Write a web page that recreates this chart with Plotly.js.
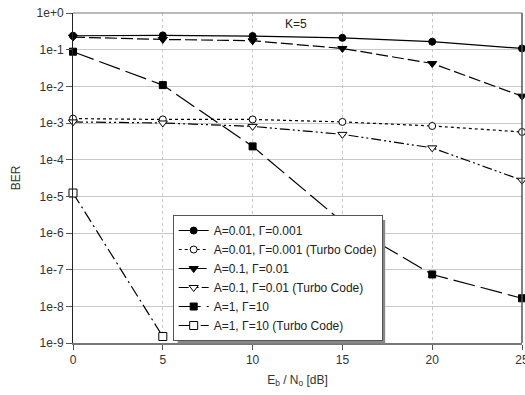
<!DOCTYPE html>
<html>
<head>
<meta charset="utf-8">
<script src="https://cdn.plot.ly/plotly-3.0.1.min.js"></script>
<style>html,body{margin:0;padding:0;background:#fff;}#chart{width:525px;height:395px;}</style>
</head>
<body>
<div id="chart"></div>
<script>
// Data
const ebno = [0, 5, 10, 15, 20, 25];
const berA001 = [0.24, 0.245, 0.235, 0.21, 0.165, 0.108];
const berA001Turbo = [1.32e-3, 1.25e-3, 1.25e-3, 1.07e-3, 8.3e-4, 5.7e-4];
const berA01 = [0.22, 0.19, 0.175, 0.108, 0.042, 0.0054];
const berA01Turbo = [1.07e-3, 1.0e-3, 8.1e-4, 4.9e-4, 2.1e-4, 2.75e-5];
const berA1 = [0.088, 0.0108, 2.3e-4, 2.0e-6, 7.4e-8, 1.66e-8];
const ebnoA1Turbo = [0, 5];
const berA1Turbo = [1.23e-5, 1.5e-9];
const seriesNames = [
  "A=0.01, Γ=0.001",
  "A=0.01, Γ=0.001 (Turbo Code)",
  "A=0.1, Γ=0.01",
  "A=0.1, Γ=0.01 (Turbo Code)",
  "A=1, Γ=10",
  "A=1, Γ=10 (Turbo Code)"
];
const yTickVals = [1, 1e-1, 1e-2, 1e-3, 1e-4, 1e-5, 1e-6, 1e-7, 1e-8, 1e-9];
const yTickText = ["1e+0","1e-1","1e-2","1e-3","1e-4","1e-5","1e-6","1e-7","1e-8","1e-9"];
const xTickVals = [0, 5, 10, 15, 20, 25];

function tr(x, y, name, dash, symbol, filled, size) {
  return {
    x: x, y: y, name: name, type: 'scatter', mode: 'lines+markers',
    line: {color: '#000', width: 1.2, dash: dash},
    marker: {symbol: symbol, size: size, color: filled ? '#000' : '#fff',
             line: {color: '#000', width: 1}},
    cliponaxis: false
  };
}

const data = [
  tr(ebno, berA001, seriesNames[0], 'solid', 'circle', true, 7),
  tr(ebno, berA001Turbo, seriesNames[1], 'dot', 'circle', false, 7),
  tr(ebno, berA01, seriesNames[2], '12px,4px', 'triangle-down', true, 8),
  tr(ebno, berA01Turbo, seriesNames[3], '10px,3px,2px,3px,2px,3px', 'triangle-down', false, 8),
  tr(ebno, berA1, seriesNames[4], '22px,6px', 'square', true, 7),
  tr(ebnoA1Turbo, berA1Turbo, seriesNames[5], '12px,4px,2px,4px', 'square', false, 8)
];

const M = {l: 73, r: 3, t: 13, b: 52};
const LEGX = 0.222, LEGY = 0.006;
const layout = {
  width: 525, height: 395,
  margin: M,
  paper_bgcolor: '#fff', plot_bgcolor: '#fff',
  font: {family: 'Liberation Sans, Arial, sans-serif', size: 12, color: '#333'},
  showlegend: true,
  xaxis: {
    range: [0, 25], tickvals: xTickVals, ticks: 'outside', ticklen: 5, tickcolor: '#555',
    ticklabeloverflow: 'allow',
    showline: true, linecolor: '#777', linewidth: 2, mirror: false,
    showgrid: true, gridcolor: '#c8c8c8', griddash: 'dot', gridwidth: 1,
    zeroline: false, tickfont: {size: 12, color: '#333'},
    title: {text: 'E<sub>b</sub> / N<sub>o</sub> [dB]', font: {size: 12, color: '#333'}, standoff: 9}
  },
  yaxis: {
    type: 'log', range: [-9, 0], tickvals: yTickVals, ticktext: yTickText,
    ticks: 'outside', ticklen: 6, tickcolor: '#555',
    showline: true, linecolor: '#222', linewidth: 1, mirror: false,
    showgrid: true, gridcolor: '#c8c8c8', gridwidth: 1,
    zeroline: false, tickfont: {size: 12, color: '#333'},
    title: {text: 'BER', font: {size: 12, color: '#333'}, standoff: 13}
  },
  legend: {
    x: LEGX, y: LEGY, xanchor: 'left', yanchor: 'bottom',
    bgcolor: '#fff', bordercolor: '#555', borderwidth: 1,
    font: {size: 12, color: '#222'}, itemwidth: 30, tracegroupgap: 0
  },
  shapes: [
    {type: 'line', xref: 'paper', yref: 'paper', x0: 0, x1: 1, y0: 1, y1: 1, line: {color: '#777', width: 1}},
    {type: 'line', xref: 'paper', yref: 'paper', x0: 1, x1: 1, y0: 0, y1: 1, line: {color: '#555', width: 1.5}}
  ],
  annotations: [
    {text: 'K=5', x: 15, y: 0, xref: 'x', yref: 'y', yanchor: 'top', xanchor: 'center', xshift: -46, yshift: -2,
     showarrow: false, font: {size: 12, color: '#222'}}
  ]
};

Plotly.newPlot('chart', data, layout, {displayModeBar: false, staticPlot: true}).then(function (gd) {
  // drop shadow behind the legend box, sized from the legend Plotly drew
  try {
    const fl = gd._fullLayout;
    const lw = fl.legend._width, lh = fl.legend._effHeight || fl.legend._height;
    if (!lw || !lh) return;
    const pw = fl._size.w, ph = fl._size.h;
    const d = 2.5;
    const shadow = {type: 'rect', xref: 'paper', yref: 'paper', layer: 'above',
      x0: LEGX + 2 * d / pw, x1: LEGX + (lw + d) / pw,
      y0: LEGY - d / ph, y1: LEGY + (lh - 2 * d) / ph,
      fillcolor: '#888', line: {width: 0}};
    return Plotly.relayout(gd, {shapes: layout.shapes.concat([shadow])});
  } catch (e) {}
});
</script>
</body>
</html>
